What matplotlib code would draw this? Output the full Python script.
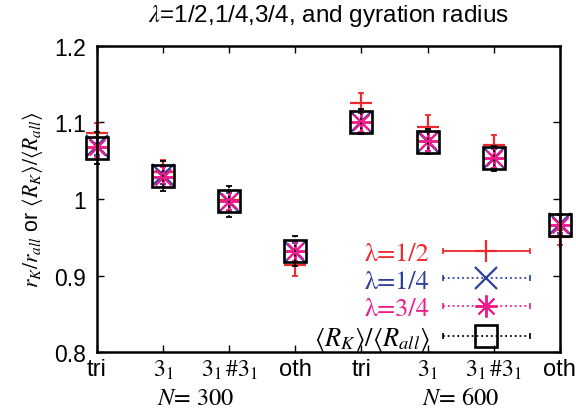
import matplotlib
matplotlib.use("Agg")
import matplotlib.pyplot as plt
from matplotlib.lines import Line2D
from matplotlib.legend_handler import HandlerLine2D

plt.rcParams["font.family"] = ["Liberation Sans", "DejaVu Sans"]
plt.rcParams["mathtext.fontset"] = "stix"

# knot types for N=300 and N=600
categories = ["tri", "$3_1$", "$3_1\\,\\#3_1$", "oth", "tri", "$3_1$", "$3_1\\,\\#3_1$", "oth"]
groups = ["$N$= 300", "$N$= 600"]

lam_half = [1.086, 1.035, 0.998, 0.914, 1.125, 1.094, 1.070, 0.950]
lam_half_err = [0.013, 0.016, 0.012, 0.014, 0.013, 0.015, 0.013, 0.010]
lam_quarter = [1.069, 1.031, 0.996, 0.931, 1.100, 1.075, 1.053, 0.967]
lam_quarter_err = [0.012, 0.012, 0.012, 0.012, 0.012, 0.012, 0.012, 0.012]
lam_3quarter = [1.068, 1.029, 0.997, 0.932, 1.101, 1.076, 1.054, 0.966]
lam_3quarter_err = [0.013, 0.013, 0.013, 0.013, 0.013, 0.013, 0.013, 0.013]
gyration = [1.067, 1.030, 0.997, 0.932, 1.101, 1.075, 1.053, 0.966]
gyration_err = [0.021, 0.020, 0.020, 0.020, 0.016, 0.016, 0.016, 0.015]

RED = "#ee2a2f"
BLUE = "#2e3f9c"
MAGENTA = "#ee1c8c"
x = list(range(len(categories)))


class CapHandler(HandlerLine2D):
  """Legend sample as a horizontal error bar with caps (gnuplot style)."""

  def create_artists(self, legend, orig_handle, xdescent, ydescent,
                     width, height, fontsize, trans):
    artists = super().create_artists(legend, orig_handle, xdescent, ydescent,
                                     width, height, fontsize, trans)
    y = height / 2 - ydescent
    caps = Line2D([-xdescent, width - xdescent], [y, y], linestyle="none",
                  marker="|", markersize=5, markeredgewidth=1.2,
                  color=orig_handle.get_color(), transform=trans)
    return list(artists) + [caps]


fig = plt.figure(figsize=(5.76, 4.14), dpi=100)
ax = fig.add_axes([0.168, 0.147, 0.804, 0.740])

series = [
    (lam_half, lam_half_err, RED, "-", "+", 1.6),
    (lam_quarter, lam_quarter_err, BLUE, ":", "x", 1.6),
    (lam_3quarter, lam_3quarter_err, MAGENTA, ":", (8, 2, 0), 1.4),
    (gyration, gyration_err, "black", ":", "s", 1.9),
]
handles = []
for vals, errs, col, ls, mk, mew in series:
  eb = ax.errorbar(x, vals, yerr=errs, fmt="none", ecolor=col, elinewidth=1.3,
                   capsize=2.5, capthick=1.3)
  for cap in eb.lines[1]:
    cap.set_clip_on(False)
  for bar in eb.lines[2]:
    bar.set_clip_on(False)
    bar.set_linestyle(ls)
  ax.plot(x, vals, linestyle="none", marker=mk, markersize=16, color=col,
          markeredgewidth=mew, markerfacecolor="none", clip_on=False)
  handles.append(Line2D([], [], color=col, linestyle=ls, linewidth=1.3,
                        marker=mk, markersize=16, markeredgewidth=mew,
                        markerfacecolor="none"))

labels = ["λ=1/2", "λ=1/4", "λ=3/4",
          r"$\langle R_K\rangle/\langle R_{all}\rangle$"]
leg = ax.legend(handles, labels, loc="lower right",
                bbox_to_anchor=(0.935, -0.004), frameon=False, markerfirst=False,
                handlelength=3.3, handletextpad=0.5, labelspacing=0.12,
                numpoints=1, borderaxespad=0.0, borderpad=0.0,
                prop={"family": "STIXGeneral", "size": 19},
                handler_map={Line2D: CapHandler()})
for txt, col in zip(leg.get_texts(), [RED, BLUE, MAGENTA, "black"]):
  txt.set_color(col)

ax.set_xlim(0, 7)
ax.set_ylim(0.8, 1.2)
ax.set_xticks(x)
ax.set_xticklabels(categories)
ax.set_yticks([0.8, 0.9, 1.0, 1.1, 1.2])
ax.set_yticklabels(["0.8", "0.9", "1", "1.1", "1.2"])
ax.tick_params(direction="in", top=True, right=True, labelsize=16.5,
               length=5, width=1.0)
ax.tick_params(axis="x", pad=4)
ax.tick_params(axis="y", pad=8)
for xt in ax.get_xticklabels():
  xt.set_fontsize(17)
for sp in ax.spines.values():
  sp.set_linewidth(1.8)

for gx, name in zip([1.5, 5.5], groups):
  ax.text(gx, -0.115, name, transform=ax.get_xaxis_transform(), ha="center",
          va="top", fontsize=17.5, family="STIXGeneral")

ax.set_ylabel(r"$r_K/r_{all}$ or $\langle R_K\rangle/\langle R_{all}\rangle$",
              fontsize=15.5, labelpad=6)
ax.set_title(r"$\lambda$=1/2,1/4,3/4, and gyration radius", fontsize=17.5, pad=18)

fig.savefig("out.png", dpi=100)
